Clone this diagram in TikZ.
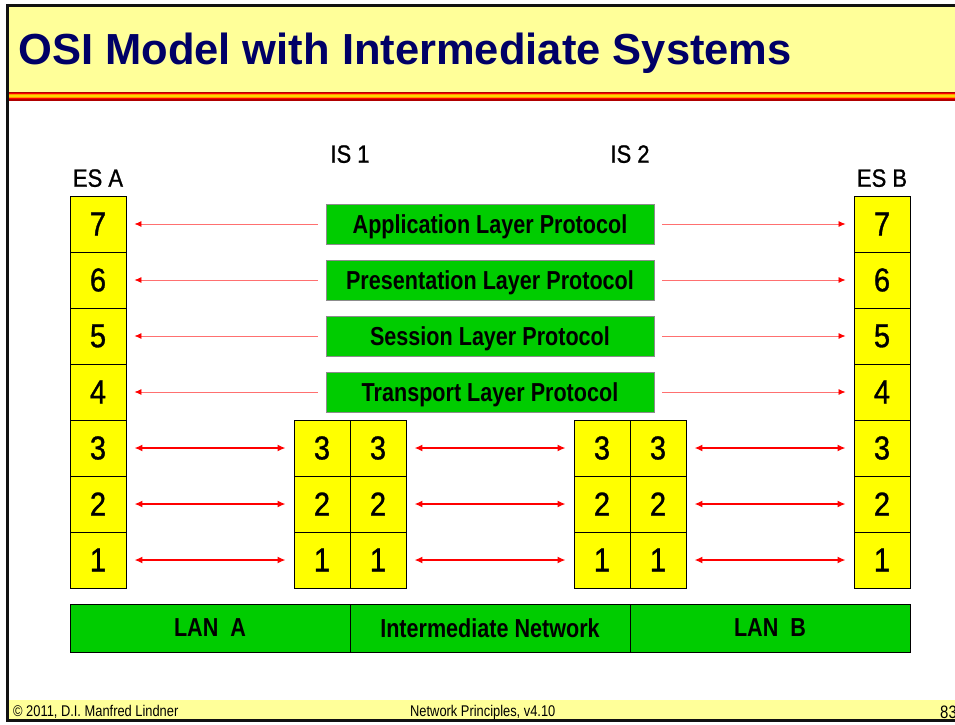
\documentclass[tikz,border=0pt]{standalone}
\usepackage{fontspec}
\setmainfont{Liberation Sans}
\newfontfamily\osinarrow[FakeStretch=0.83]{Liberation Sans}
\newfontfamily\osilabel[FakeStretch=0.88,FakeBold=1]{Liberation Sans}
\usetikzlibrary{arrows.meta,positioning}
\definecolor{osiyellow}{HTML}{FFFF00}
\definecolor{osigreen}{HTML}{00CC00}
\definecolor{osinavy}{HTML}{000066}
\definecolor{osicream}{HTML}{FFFF99}
\definecolor{osired}{HTML}{FF0000}
\definecolor{osipink}{HTML}{FF7070}
\definecolor{osidkred}{HTML}{B00000}
\definecolor{osiorange}{HTML}{FF9900}
\definecolor{osiamber}{HTML}{FFD400}
\definecolor{osiframe}{HTML}{111111}
\tikzset{
  cell/.style={draw=black, line width=0.9pt, fill=osiyellow, minimum width=56pt, minimum height=56pt, inner sep=0pt, font=\osilabel\fontsize{33}{33}\selectfont},
  proto/.style={draw=black!45, line width=0.9pt, fill=osigreen, minimum width=328pt, minimum height=40pt, inner sep=0pt, text depth=0pt, font=\osinarrow\bfseries\fontsize{26}{26}\selectfont},
  lan/.style={draw=black, line width=0.9pt, fill=osigreen, minimum width=280pt, minimum height=48pt, inner sep=0pt, text depth=0pt, font=\osinarrow\bfseries\fontsize{26}{26}\selectfont},
  sysname/.style={inner sep=0pt, text depth=0pt, font=\osilabel\fontsize{25}{25}\selectfont},
  footer/.style={anchor=base west, inner sep=0pt, font=\osinarrow\fontsize{15.5}{15.5}\selectfont},
  protoarr/.style={-{Latex[length=7pt,width=6pt,color=osired]}, line width=0.8pt, color=osipink, shorten <=8pt, shorten >=8pt},
  dblarr/.style={{Latex[length=8pt,width=7pt]}-{Latex[length=8pt,width=7pt]}, line width=1.6pt, color=osired, shorten <=8pt, shorten >=8pt},
}
\begin{document}
\begin{tikzpicture}[x=1pt,y=-1pt]
  \useasboundingbox (0,0) rectangle (955,724);
  % slide frame, title band and footer band
  \fill[osicream] (7,5) rectangle (955,92);
  \foreach \a/\b/\col in {91.7/92.9/osidkred,92.9/94.1/osired,94.1/95.3/osiorange,95.3/96.7/osiamber,96.7/97.9/osiorange,97.9/99.2/osired,99.2/100.7/osidkred}
    { \fill[\col] (7,\a) rectangle (955,\b); }
  \fill[osicream] (7,700) rectangle (955,720);
  \draw[line width=3pt, osiframe] (7,5) rectangle (975,720.5);
  \node[anchor=base west, inner sep=0pt, text=osinavy, font=\bfseries\fontsize{43.5}{43.5}\selectfont] (title) at (18,64) {OSI Model with Intermediate Systems};

  % system names
  \node[sysname] (esaname) at (98,178) {ES A};
  \node[sysname] (esbname) at (882,178) {ES B};
  \node[sysname] (is1name) at (350,154) {IS 1};
  \node[sysname] (is2name) at (630,154) {IS 2};

  % layer stacks: end systems 7..1, intermediate systems 3..1
  \foreach \n in {1,...,7} {
    \node[cell] (esa\n) at (98,616-56*\n) {\n};
    \node[cell] (esb\n) at (882,616-56*\n) {\n};
  }
  \foreach \n in {1,2,3} {
    \node[cell] (isal\n) at (322,616-56*\n) {\n};
    \node[cell] (isar\n) at (378,616-56*\n) {\n};
    \node[cell] (isbl\n) at (602,616-56*\n) {\n};
    \node[cell] (isbr\n) at (658,616-56*\n) {\n};
  }

  % end-to-end protocols
  \node[proto] (app) at (490,224) {Application Layer Protocol};
  \node[proto] (pres) at (490,280) {Presentation Layer Protocol};
  \node[proto] (sess) at (490,336) {Session Layer Protocol};
  \node[proto] (trans) at (490,392) {Transport Layer Protocol};
  \foreach \n/\p in {7/app,6/pres,5/sess,4/trans} {
    \draw[protoarr] (\p.west) -- (esa\n.east);
    \draw[protoarr] (\p.east) -- (esb\n.west);
  }

  % hop-by-hop layers
  \foreach \n in {1,2,3} {
    \draw[dblarr] (esa\n.east) -- (isal\n.west);
    \draw[dblarr] (isar\n.east) -- (isbl\n.west);
    \draw[dblarr] (isbr\n.east) -- (esb\n.west);
  }

  % networks
  \node[lan] (lana) at (210,628) {LAN\ \ A};
  \node[lan] (inet) at (490,628) {Intermediate Network};
  \node[lan] (lanb) at (770,628) {LAN\ \ B};

  % footer
  \node[footer] (copy) at (13,716) {\textcopyright{} 2011, D.I. Manfred Lindner};
  \node[footer] (course) at (410,716) {Network Principles, v4.10};
  \node[footer, font=\osinarrow\fontsize{18}{18}\selectfont] (page) at (940,718) {83};
\end{tikzpicture}
\end{document}
